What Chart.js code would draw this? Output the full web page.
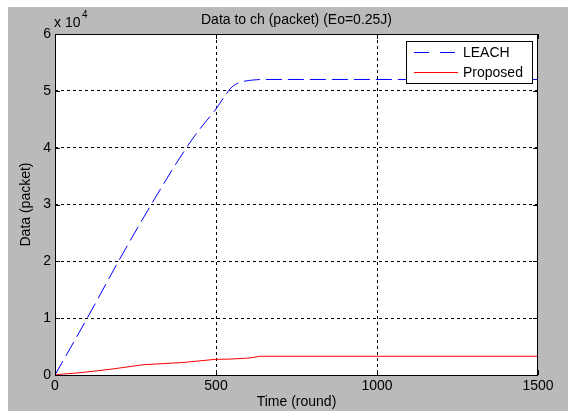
<!DOCTYPE html>
<html>
<head>
<meta charset="utf-8">
<script src="https://cdn.jsdelivr.net/npm/chart.js@4"></script>
<style>
  html, body { margin: 0; padding: 0; background: #ffffff; }
  #wrap { width: 571px; height: 411px; }
</style>
</head>
<body>
<div id="wrap"><canvas id="dataChart" width="571" height="411"></canvas></div>
<script>
// ---------- DATA ----------
let leachRounds = [0, 100, 200, 300, 400, 450, 500, 525, 550, 575, 600, 625, 650, 1000, 1500];
let leachData   = [0, 10000, 20300, 30100, 39300, 43300, 46800, 48900, 50700, 51500, 51800, 51950, 52000, 52000, 52000];

let proposedRounds = [0, 16, 78, 171, 273, 398, 497, 544, 606, 637, 1000, 1500];
let proposedData   = [0, 120, 400, 1000, 1800, 2200, 2750, 2800, 3000, 3300, 3300, 3300];

let xTicks = [0, 500, 1000, 1500];
let yTicks = [0, 10000, 20000, 30000, 40000, 50000, 60000];

let seriesLabels = ["LEACH", "Proposed"];
let titleText = "Data to ch (packet) (Eo=0.25J)";

const FONT = "'Liberation Sans', Arial, sans-serif";

function toPoints(xs, ys) {
  return xs.map((x, i) => ({ x: x, y: ys[i] }));
}

// ---------- FIGURE BACKGROUND / FRAME / LEGEND ----------
const matlabLook = {
  id: "matlabLook",
  beforeDraw(chart) {
    let ctx = chart.ctx;
    let a = chart.chartArea;
    ctx.save();
    ctx.fillStyle = "#ffffff";
    ctx.fillRect(0, 0, chart.width, chart.height);
    ctx.fillStyle = "#bababa";
    ctx.fillRect(8, 7, 560, chart.height - 7);
    ctx.fillStyle = "#ffffff";
    ctx.fillRect(a.left, a.top, a.right - a.left, a.bottom - a.top);
    ctx.restore();
  },
  afterDraw(chart) {
    let ctx = chart.ctx;
    let a = chart.chartArea;
    ctx.save();

    // axes box
    ctx.strokeStyle = "#000000";
    ctx.lineWidth = 1;
    ctx.strokeRect(a.left + 0.5, a.top + 0.5, a.right - a.left - 1, a.bottom - a.top);

    // inward ticks
    let xs = chart.scales.x, ys = chart.scales.y;
    ctx.beginPath();
    xTicks.forEach(t => {
      let px = Math.round(xs.getPixelForValue(t)) + 0.5;
      ctx.moveTo(px, a.bottom); ctx.lineTo(px, a.bottom - 5);
      ctx.moveTo(px, a.top); ctx.lineTo(px, a.top + 5);
    });
    yTicks.forEach(t => {
      let py = Math.round(ys.getPixelForValue(t)) + 0.5;
      ctx.moveTo(a.left, py); ctx.lineTo(a.left + 5, py);
      ctx.moveTo(a.right, py); ctx.lineTo(a.right - 5, py);
    });
    ctx.stroke();

    // title
    ctx.fillStyle = "#000000";
    ctx.font = "14px " + FONT;
    ctx.textAlign = "center";
    ctx.textBaseline = "middle";
    ctx.fillText(titleText, (a.left + a.right) / 2, 20);

    // exponent label
    ctx.textAlign = "left";
    ctx.fillText("x 10", 54, 23);
    ctx.font = "10px " + FONT;
    ctx.fillText("4", 82, 15);

    // legend
    let lx = 406, ly = 41, lw = 126, lh = 42;
    ctx.fillStyle = "#ffffff";
    ctx.fillRect(lx, ly, lw, lh);
    ctx.strokeStyle = "#000000";
    ctx.strokeRect(lx + 0.5, ly + 0.5, lw, lh);
    chart.data.datasets.forEach((ds, i) => {
      let yy = ly + 11 + i * 20;
      ctx.strokeStyle = ds.borderColor;
      ctx.lineWidth = 1;
      ctx.setLineDash(ds.borderDash ? [15, 11] : []);
      ctx.beginPath();
      ctx.moveTo(lx + 8, yy + 0.5);
      ctx.lineTo(lx + 52, yy + 0.5);
      ctx.stroke();
      ctx.setLineDash([]);
      ctx.fillStyle = "#000000";
      ctx.font = "14px " + FONT;
      ctx.textAlign = "left";
      ctx.fillText(ds.label, lx + 57, yy + 1);
    });
    ctx.restore();
  }
};

new Chart(document.getElementById("dataChart"), {
  type: "line",
  data: {
    datasets: [{
      label: seriesLabels[0],
      data: toPoints(leachRounds, leachData),
      borderColor: "#0000ff",
      borderWidth: 1,
      borderDash: [16, 6],
      pointRadius: 0,
      cubicInterpolationMode: "monotone",
      fill: false
    }, {
      label: seriesLabels[1],
      data: toPoints(proposedRounds, proposedData),
      borderColor: "#ff0000",
      borderWidth: 1,
      pointRadius: 0,
      tension: 0,
      fill: false
    }]
  },
  options: {
    responsive: false,
    animation: false,
    devicePixelRatio: 1,
    layout: { padding: { left: 0, top: 34, right: 33, bottom: 0 } },
    plugins: {
      legend: { display: false },
      tooltip: { enabled: false }
    },
    scales: {
      x: {
        type: "linear",
        min: 0,
        max: 1500,
        afterBuildTicks: s => { s.ticks = xTicks.map(v => ({ value: v })); },
        afterFit: s => { s.height = 36; },
        border: { display: false, dash: [3, 3] },
        grid: {
          color: ctx => (ctx.tick && (ctx.tick.value === 0 || ctx.tick.value === 1500)) ? "rgba(0,0,0,0)" : "#000000",
          lineWidth: 1,
          drawTicks: false
        },
        ticks: {
          color: "#000000",
          font: { family: FONT, size: 14 },
          padding: 3,
          maxRotation: 0,
          callback: v => String(v)
        },
        title: {
          display: true,
          text: "Time (round)",
          color: "#000000",
          font: { family: FONT, size: 14 },
          padding: { top: 0, bottom: 0 }
        }
      },
      y: {
        type: "linear",
        min: 0,
        max: 60000,
        afterBuildTicks: s => { s.ticks = yTicks.map(v => ({ value: v })); },
        afterFit: s => { s.width = 55; },
        border: { display: false, dash: [3, 3] },
        grid: {
          color: ctx => (ctx.tick && (ctx.tick.value === 0 || ctx.tick.value === 60000)) ? "rgba(0,0,0,0)" : "#000000",
          lineWidth: 1,
          drawTicks: false
        },
        ticks: {
          color: "#000000",
          font: { family: FONT, size: 14 },
          padding: 4,
          callback: v => String(v / 10000)
        },
        title: {
          display: true,
          text: "Data (packet)",
          color: "#000000",
          font: { family: FONT, size: 14 },
          padding: { top: 18, bottom: 0 }
        }
      }
    }
  },
  plugins: [matlabLook]
});
</script>
</body>
</html>
